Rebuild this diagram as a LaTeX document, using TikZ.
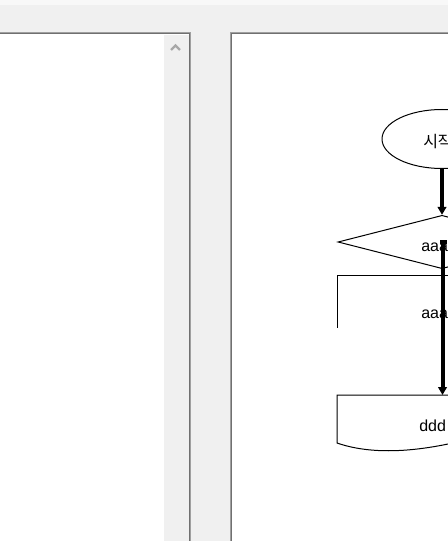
\documentclass[tikz,border=0pt]{standalone}
\usepackage{fontspec}
\setmainfont{Liberation Sans}
\newfontfamily\krfont{Noto Sans CJK KR}
\usetikzlibrary{shapes.geometric,arrows.meta}
\definecolor{winbg}{HTML}{F0F0F0}
\definecolor{bordout}{HTML}{A0A0A0}
\definecolor{bordin}{HTML}{707070}
\definecolor{chev}{HTML}{A8A8A8}
\tikzset{
  shp/.style={draw=black, line width=0.75pt},
  flowarrow/.style={line width=3pt, -{Triangle[length=6pt,width=6.5pt]}},
  lbl/.style={font=\fontsize{12pt}{14pt}\selectfont, inner sep=0pt, anchor=base west},
}
\begin{document}
\begin{tikzpicture}[x=0.75pt,y=-0.75pt]
\useasboundingbox (0,0) rectangle (448,541);
\clip (0,0) rectangle (448,541);
% window background
\fill[winbg] (0,0) rectangle (448,541);
\fill[white!50!winbg] (0,0) rectangle (448,5);
% left panel
\fill[white] (0,33) rectangle (190,541);
\fill[winbg] (164,35) rectangle (189,541);
\draw[bordout, line width=0.75pt] (0,32.5) -- (190.5,32.5) -- (190.5,541);
\draw[bordin, line width=0.75pt] (0,33.5) -- (189.5,33.5) -- (189.5,541);
\draw[chev, line width=1.6pt] (171,50) -- (175.5,45.5) -- (180,50);
% right panel
\fill[white] (231,33) rectangle (448,541);
\draw[bordout, line width=0.75pt] (230.5,541) -- (230.5,32.5) -- (448,32.5);
\draw[bordin, line width=0.75pt] (231.5,541) -- (231.5,33.5) -- (448,33.5);
% flowchart
\node[shp, ellipse, minimum width=90pt, minimum height=44.25pt, inner sep=0pt] (start) at (442,139) {};
\node[lbl] (starttxt) at (423,148) {\krfont 시작};
\node[shp, diamond, minimum width=156pt, minimum height=40pt, inner sep=0pt] (dec) at (442,242) {};
\node[lbl] (dectxt) at (421,251) {aaa};
\draw[shp] (448,275) -- (337,275) -- (337,328);
\coordinate (proc) at (442,275);
\node[lbl] (proctxt) at (421,318) {aaa};
\draw[shp] (448,395) -- (337,395) -- (337,443) .. controls (360,451) and (395,455) .. (448,444);
\coordinate (doctop) at (442,395);
\node[lbl] (doctxt) at (419,431) {ddd};
% connectors
\draw[flowarrow] (start.south) -- (dec.north);
\fill[black] (439.5,240) rectangle (446.5,244);
\draw[flowarrow] (442.5,241) -- (doctop -| 442.5,0);
\end{tikzpicture}
\end{document}
